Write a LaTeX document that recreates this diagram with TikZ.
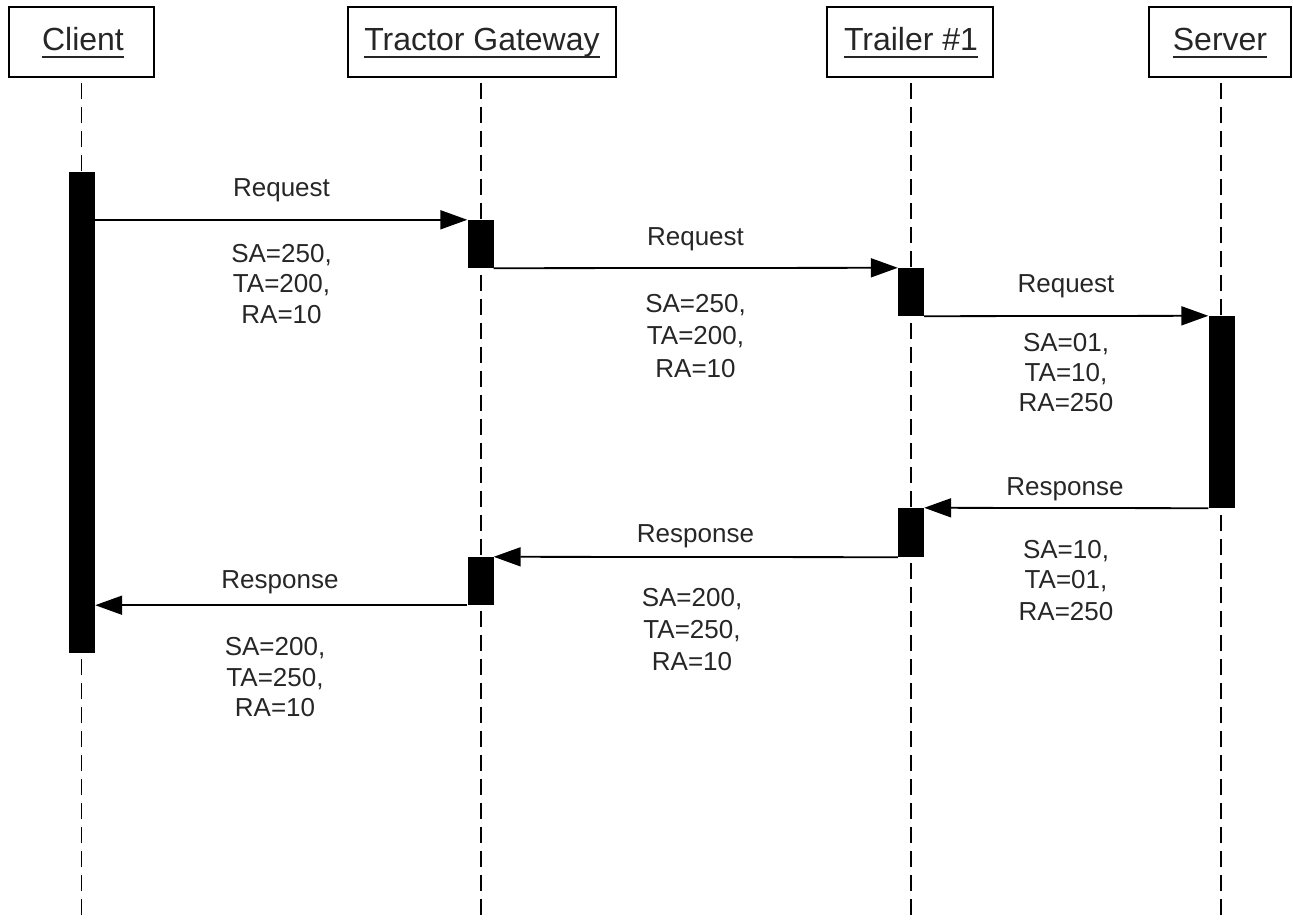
\documentclass[tikz,border=0pt]{standalone}
\usepackage{fontspec}
\setmainfont{Liberation Sans}
\usetikzlibrary{arrows.meta}
\begin{document}
\begin{tikzpicture}[x=1pt,y=-1pt,
  hbox/.style={draw, line width=1.6pt, minimum width=#1, minimum height=70pt, inner sep=0pt},
  htext/.style={inner sep=0pt, anchor=base, font=\fontsize{32}{38}\selectfont, text=black!85},
  uline/.style={line width=1.8pt, draw=black!85},
  life/.style={dash pattern=on 16pt off 8pt, dash phase=18pt, line width=1.4pt},
  actbar/.style={fill=black, draw=none, minimum width=26pt, minimum height=#1, inner sep=0pt},
  msg/.style={line width=1.8pt, -{Triangle[length=27pt,width=19pt]}},
  lbl/.style={inner sep=0pt, anchor=base, font=\fontsize{26}{31}\selectfont, text=black!85}
]
\useasboundingbox (0,0) rectangle (1293,920);

% header boxes
\node[hbox=145pt] (client)  at (81.5,42) {};
\node[hbox=268pt] (gateway) at (482,42) {};
\node[hbox=166pt] (trailer) at (910,42) {};
\node[hbox=142pt] (server)  at (1220,42) {};

\node[htext] (clientT)  at (83,51) {Client};
\node[htext] (gatewayT) at (482,51) {Tractor Gateway};
\node[htext] (trailerT) at (911,51) {Trailer \#1};
\node[htext] (serverT)  at (1220,51) {Server};
\foreach \t in {clientT,gatewayT,trailerT,serverT}
  \draw[uline] ([yshift=-6pt]\t.base west) -- ([yshift=-6pt]\t.base east);

% lifelines
\coordinate (clientE)  at (81.5,920);
\coordinate (gatewayE) at (481,920);
\coordinate (trailerE) at (911,920);
\coordinate (serverE)  at (1221,920);
\draw[life] (client.south |- 0,77) -- (clientE);
\draw[life] (481,77) -- (gatewayE);
\draw[life] (911,77) -- (trailerE);
\draw[life] (1221,77) -- (serverE);

% activation bars
\node[actbar=481pt] (cbar)  at (82,412.5) {};
\node[actbar=48pt]  (gbar1) at (480.5,244) {};
\node[actbar=48pt]  (tbar1) at (911,292) {};
\node[actbar=192pt] (sbar)  at (1221.5,412) {};
\node[actbar=49pt]  (tbar2) at (911,532.5) {};
\node[actbar=48pt]  (gbar2) at (480.5,581) {};

% messages
\draw[msg] (cbar.east |- gbar1.north west) -- (gbar1.north west);
\draw[msg] (gbar1.south east) -- (tbar1.north west);
\draw[msg] (tbar1.south east) -- (sbar.north west);
\draw[msg] (sbar.south west) -- (tbar2.north east);
\draw[msg] (tbar2.south west) -- (gbar2.north east);
\draw[msg] (gbar2.south west) -- (cbar.east |- gbar2.south west);

% labels block 1
\node[lbl] (l1a) at (281.5,197) {Request};
\node[lbl] (l1b) at (281.5,262) {SA=250,};
\node[lbl] (l1c) at (281.5,292) {TA=200,};
\node[lbl] (l1d) at (281.5,323) {RA=10};
% block 2
\node[lbl] (l2a) at (695.5,245) {Request};
\node[lbl] (l2b) at (695.5,312) {SA=250,};
\node[lbl] (l2c) at (695.5,344) {TA=200,};
\node[lbl] (l2d) at (695.5,377) {RA=10};
% block 3
\node[lbl] (l3a) at (1066,292) {Request};
\node[lbl] (l3b) at (1066,351.5) {SA=01,};
\node[lbl] (l3c) at (1066,381.5) {TA=10,};
\node[lbl] (l3d) at (1066,411.5) {RA=250};
% block 4
\node[lbl] (l4a) at (1065,495) {Response};
\node[lbl] (l4b) at (1066,558) {SA=10,};
\node[lbl] (l4c) at (1066,588.5) {TA=01,};
\node[lbl] (l4d) at (1066,620) {RA=250};
% block 5
\node[lbl] (l5a) at (695.5,542) {Response};
\node[lbl] (l5b) at (692,606) {SA=200,};
\node[lbl] (l5c) at (692,638) {TA=250,};
\node[lbl] (l5d) at (692,670) {RA=10};
% block 6
\node[lbl] (l6a) at (280,588) {Response};
\node[lbl] (l6b) at (275,655) {SA=200,};
\node[lbl] (l6c) at (275,686.5) {TA=250,};
\node[lbl] (l6d) at (275,716.5) {RA=10};
\end{tikzpicture}
\end{document}
